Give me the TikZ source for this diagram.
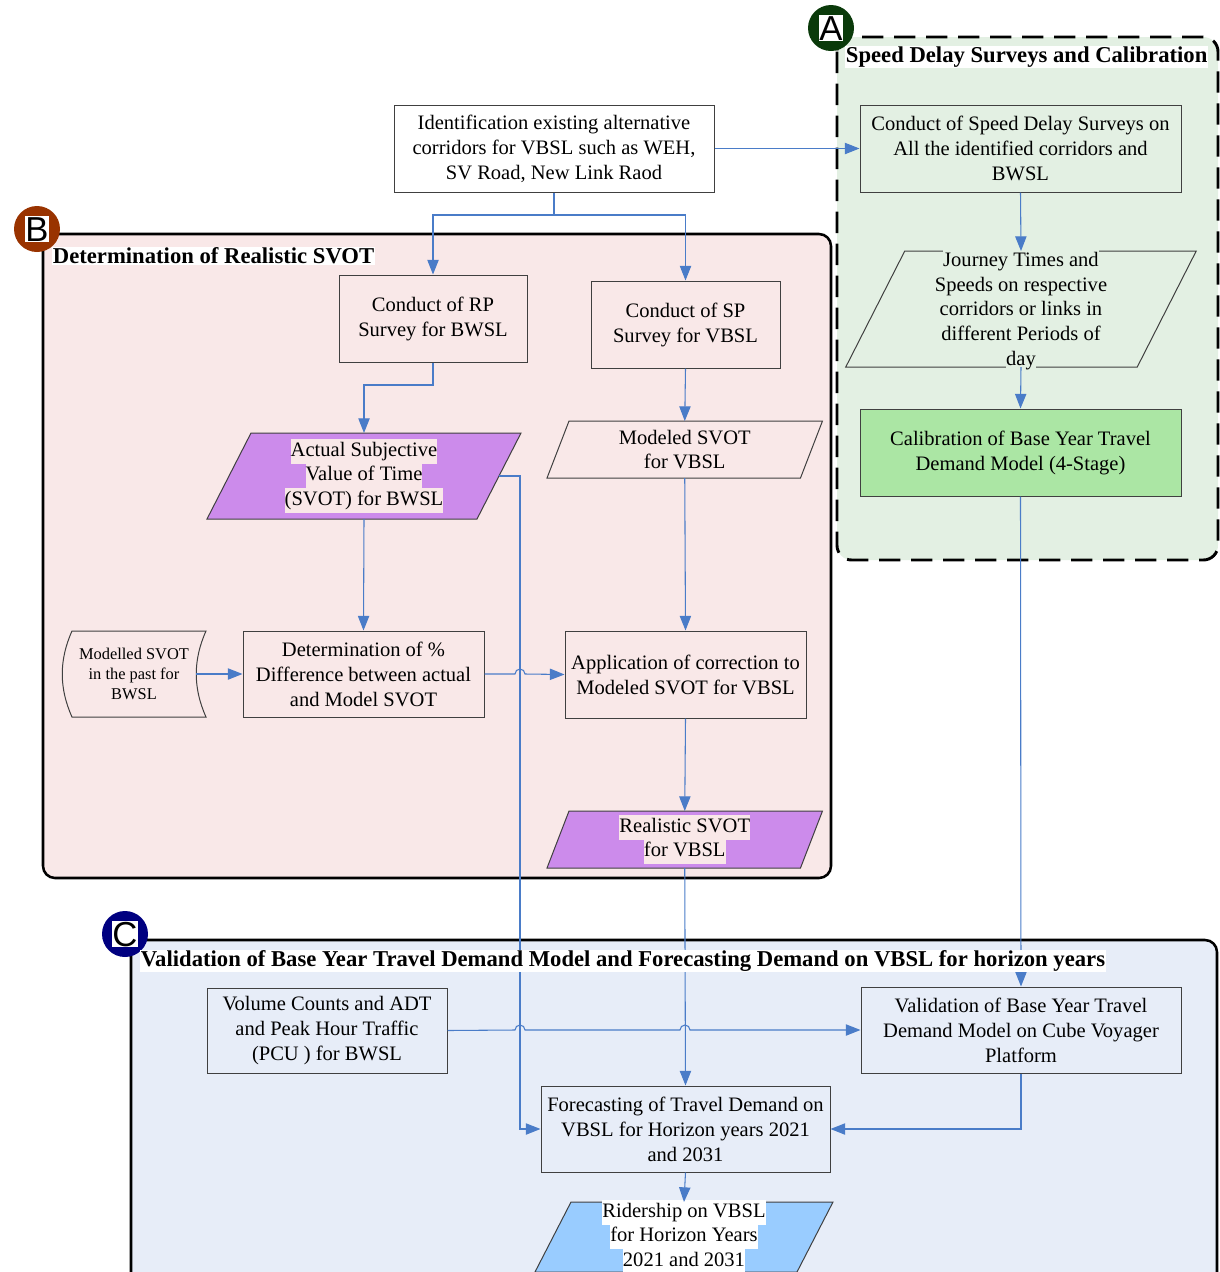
\documentclass[tikz,border=0pt]{standalone}
\usepackage{fontspec}
\setmainfont{Liberation Serif}
\newfontfamily\lettersf{Liberation Sans}
\usetikzlibrary{arrows.meta,calc}
\definecolor{grpA}{HTML}{E3F0E3}
\definecolor{grpB}{HTML}{F9E8E8}
\definecolor{grpC}{HTML}{E7EDF8}
\definecolor{calib}{HTML}{ABE6A4}
\definecolor{purp}{HTML}{CC8BEB}
\definecolor{skyb}{HTML}{99CCFF}
\definecolor{linec}{HTML}{4A7CC8}
\definecolor{edgec}{HTML}{404040}
\definecolor{circA}{HTML}{0A3A0A}
\definecolor{circB}{HTML}{993300}
\definecolor{circC}{HTML}{000080}
\newcommand\hlc[2]{{\setlength\fboxsep{0pt}\colorbox{#1}{\strut #2}}}
\newcommand\parashape[3]{%
  \draw[#3] ($(#1.north west)+(#2/2,0)$) -- ($(#1.north east)+(#2/2,0)$) -- ($(#1.south east)+(-#2/2,0)$) -- ($(#1.south west)+(-#2/2,0)$) -- cycle;}
\tikzset{
  procbox/.style={draw=edgec, line width=0.75pt, align=center, inner sep=0pt, font=\fontsize{15.4}{18.75}\selectfont},
  ghost/.style={inner sep=0pt, outer sep=0pt},
  txt/.style={align=center, inner sep=0pt, font=\fontsize{15.4}{18.5}\selectfont},
  pshape/.style={draw=edgec, line width=0.75pt},
  conn/.style={draw=linec, line width=0.8pt},
  arr/.style={conn, -{Triangle[length=11pt,width=8.5pt]}},
  grphead/.style={anchor=west, fill=white, inner sep=0.5pt, font=\bfseries\fontsize{17}{20}\selectfont},
  badge/.style={circle, inner sep=0pt, minimum size=34.5pt},
  badgeletter/.style={fill=white, inner sep=0.3pt, text depth=0.5pt, text height=18.8pt, font=\lettersf\fontsize{26}{26}\selectfont},
}
\begin{document}
\begin{tikzpicture}[x=0.75pt,y=-0.75pt]
\useasboundingbox (0,0) rectangle (1220,1272);
\clip (0,0) rectangle (1220,1272);
% ---------- group backgrounds ----------
\draw[fill=grpA, line width=2.2pt, dash pattern=on 16pt off 8pt, rounded corners=11pt] (837,37) rectangle (1218,560);
\draw[fill=grpB, line width=1.9pt, rounded corners=9pt] (43,234) rectangle (831,878);
\draw[fill=grpC, line width=1.9pt, rounded corners=9pt] (131,940) rectangle (1217,1300);
% badges
\node[badge, fill=circA] (bA) at (831,28) {};
\node[badgeletter] (lA) at (bA) {A};
\node[badge, fill=circB] (bB) at (37,229) {};
\node[badgeletter] (lB) at (bB) {B};
\node[badge, fill=circC] (bC) at (125,934) {};
\node[badgeletter] (lC) at (bC) {C};
% ---------- rectangles ----------
\node[procbox, fill=white, minimum width=240pt, minimum height=65.25pt] (top) at (554,148.5)
  {Identification existing alternative\\corridors for VBSL such as WEH,\\SV Road, New Link Raod};
\node[procbox, minimum width=240.75pt, minimum height=65.25pt] (a1) at (1020.5,148.5)
  {Conduct of Speed Delay Surveys on\\All the identified corridors and\\BWSL};
\node[procbox, fill=calib, minimum width=240.75pt, minimum height=65.25pt] (a3) at (1020.5,452.5)
  {Calibration of Base Year Travel\\Demand Model (4-Stage)};
\node[procbox, minimum width=141pt, minimum height=65.25pt] (b1) at (433,318.5)
  {Conduct of RP\\Survey for BWSL};
\node[procbox, minimum width=141.75pt, minimum height=65.25pt] (b2) at (685.5,324.5)
  {Conduct of SP\\Survey for VBSL};
\node[procbox, minimum width=180.75pt, minimum height=64.5pt] (b6) at (363.5,674)
  {Determination of \%\\Difference between actual\\and Model SVOT};
\node[procbox, minimum width=180.75pt, minimum height=65.25pt] (b7) at (685.5,674.5)
  {Application of correction to\\Modeled SVOT for VBSL};
\node[procbox, minimum width=180pt, minimum height=63.75pt] (c1) at (327,1030.5)
  {Volume Counts and ADT\\and Peak Hour Traffic\\(PCU ) for BWSL};
\node[procbox, minimum width=240pt, minimum height=64.5pt] (c2) at (1021,1030)
  {Validation of Base Year Travel\\Demand Model on Cube Voyager\\Platform};
\node[procbox, minimum width=216.75pt, minimum height=64.5pt] (c3) at (685.5,1129)
  {Forecasting of Travel Demand on\\VBSL for Horizon years 2021\\and 2031};
% ---------- parallelograms ----------
\node[ghost, minimum width=218.6pt, minimum height=87pt] (a2) at (1021,309) {};
\parashape{a2}{59}{pshape}
\node[txt] (a2t) at (1021,311) {\hlc{grpA}{Journey Times and}\\\hlc{grpA}{Speeds on respective}\\\hlc{grpA}{corridors or links in}\\\hlc{grpA}{different Periods of}\\\hlc{grpA}{day}};
\node[ghost, minimum width=202.5pt, minimum height=64.5pt] (b3) at (364,476) {};
\parashape{b3}{44}{pshape, fill=purp}
\node[txt] (b3t) at (b3) {\hlc{grpB}{Actual Subjective}\\\hlc{grpB}{Value of Time}\\\hlc{grpB}{(SVOT) for BWSL}};
\node[ghost, minimum width=190.1pt, minimum height=42.75pt] (b4) at (684.75,449.5) {};
\parashape{b4}{22}{pshape}
\node[txt] (b4t) at (b4) {Modeled SVOT\\for VBSL};
\node[ghost, minimum width=190.1pt, minimum height=42.75pt] (b8) at (684.75,839.5) {};
\parashape{b8}{22}{pshape, fill=purp}
\node[txt] (b8t) at (b8) {\hlc{grpB}{Realistic SVOT}\\\hlc{grpB}{for VBSL}};
\node[ghost, minimum width=196.5pt, minimum height=52.5pt] (c4) at (684,1237) {};
\parashape{c4}{36}{pshape, fill=skyb}
\node[txt] (c4t) at (c4) {\hlc{white}{Ridership on VBSL}\\\hlc{white}{for Horizon Years}\\\hlc{white}{2021 and 2031}};
% ---------- stored data ----------
\node[ghost, minimum width=100.5pt, minimum height=64.5pt] (b5) at (129,674) {};
\draw[pshape] ($(b5.north west)+(10,0)$) -- ($(b5.north east)+(10,0)$)
  .. controls ($(b5.north east)+(-3,29)$) and ($(b5.south east)+(-3,-29)$) .. ($(b5.south east)+(10,0)$)
  -- ($(b5.south west)+(10,0)$)
  .. controls ($(b5.south west)+(-3,-29)$) and ($(b5.north west)+(-3,29)$) .. ($(b5.north west)+(10,0)$) -- cycle;
\node[txt, font=\fontsize{12.3}{15}\selectfont] (b5t) at (134,674) {Modelled SVOT\\in the past for\\BWSL};
% ---------- connectors ----------
\coordinate (split) at (554,215);
\coordinate (b1turn) at (433,385);
\coordinate (b3r) at (499,476);
\draw[arr] (top.east) -- (a1.west);
\draw[conn] (top.south) -- (split);
\draw[arr] (split) -| (b1.north);
\draw[arr] (split) -| (b2.north);
\draw[arr] (a1.south) -- (a2.north);
\draw[arr] (a2.south) -- (a3.north);
\draw[arr] (a3.south) -- (c2.north);
\draw[arr] (b1.south) -- (b1turn) -| (b3.north);
\draw[arr] (b2.south) -- (b4.north);
\draw[arr] (b3.south) -- (b6.north);
\draw[arr] (b5.east) -- (b6.west);
\draw[arr] (b6.east) -- (515,674) arc (180:360:5) -- (b7.west);
\draw[arr] (b3r) -- (520,476) |- (c3.west);
\draw[arr] (b4.south) -- (b7.north);
\draw[arr] (b7.south) -- (b8.north);
\draw[arr] (b8.south) -- (c3.north);
\draw[arr] (c1.east) -- (515,1030) arc (180:360:5) -- (680,1030) arc (180:360:5) -- (c2.west);
\draw[arr] (c2.south) |- (c3.east);
\draw[arr] (c3.south) -- (c4.north);
% ---------- headings (on top of connectors) ----------
\node[grphead] (hA) at (845,57) {Speed Delay Surveys and Calibration};
\node[grphead] (hB) at (52,256) {Determination of Realistic SVOT};
\node[grphead] (hC) at (140,961) {Validation of Base Year Travel Demand Model and Forecasting Demand on VBSL for horizon years};
\end{tikzpicture}
\end{document}
